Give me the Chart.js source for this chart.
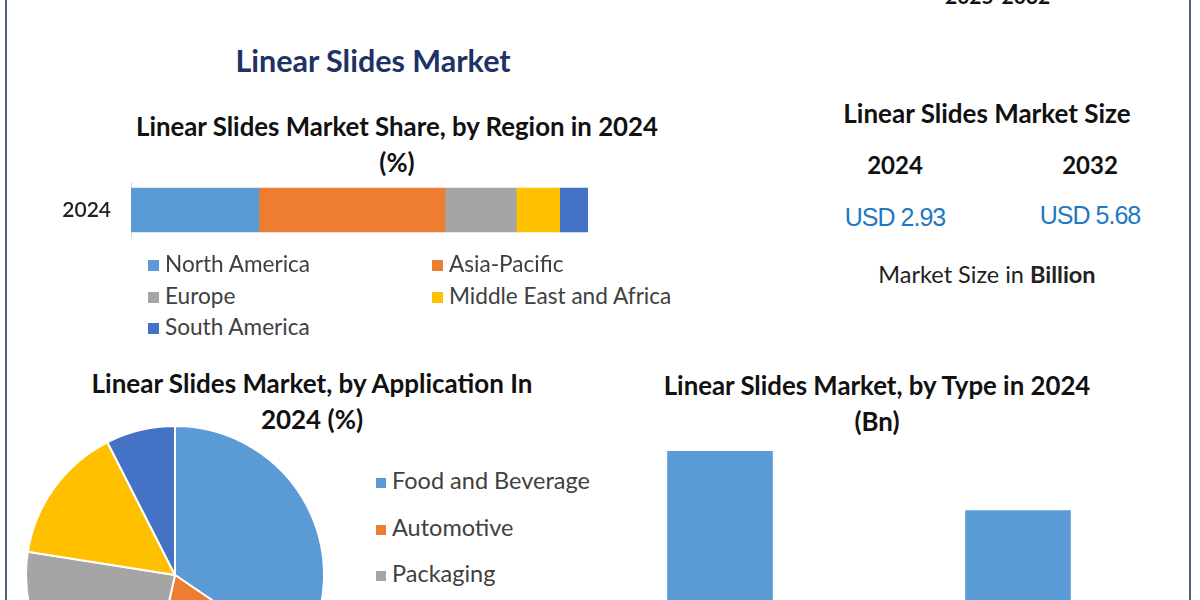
<!DOCTYPE html>
<html>
<head>
<meta charset="utf-8">
<script src="https://cdn.jsdelivr.net/npm/chart.js@4.4.1/dist/chart.umd.min.js"></script>
<style>
  html, body { margin: 0; padding: 0; }
  body { width: 1200px; height: 600px; overflow: hidden; position: relative; background: #fff; font-family: Lato, "Open Sans", sans-serif; }
  .abs { position: absolute; white-space: nowrap; }
  .c { text-align: center; }
  .t { font-weight: bold; color: #111; font-size: 25.8px; line-height: 36px; }
  .leg { position: absolute; font-size: 22.6px; color: #404040; line-height: 24px; white-space: nowrap; }
  .leg i { display: inline-block; width: 11px; height: 11px; margin-right: 6px; vertical-align: 1px; }
  canvas { position: absolute; }
  .edge { position: absolute; top: 0; height: 600px; width: 2px; background: #4c6177; }
</style>
</head>
<body>
<div class="edge" style="left:5px"></div>
<div class="edge" style="left:1189px"></div>

<div class="abs t" style="left:945px; top:-22px; font-size:21px;">2025-2032</div>
<div class="abs c" style="left:173px; width:400px; top:42px; font-size:30.5px; font-weight:bold; color:#1e3265; line-height:36px;">Linear Slides Market</div>

<div class="abs t c" style="left:97px; width:600px; top:108px;">Linear Slides Market Share, by Region in 2024<br>(%)</div>
<canvas id="regionChart" width="588" height="120" style="left:0; top:150px;"></canvas>
<div id="regionLegend"></div>

<div class="abs t c" style="left:787px; width:400px; top:95px; font-size:26px;">Linear Slides Market Size</div>
<div id="sizeBox"></div>
<div class="abs c" style="left:787px; width:400px; top:258px; font-size:23.5px; color:#222; line-height:32px;">Market Size in <b>Billion</b></div>

<div class="abs t c" style="left:12px; width:600px; top:365px; font-size:26px;">Linear Slides Market, by Application In<br>2024 (%)</div>
<canvas id="appChart" width="300" height="300" style="left:25px; top:425px;"></canvas>
<div id="appLegend"></div>

<div class="abs t c" style="left:577px; width:600px; top:367px;">Linear Slides Market, by Type in 2024<br>(Bn)</div>
<canvas id="typeChart" width="596" height="320" style="left:571px; top:440px;"></canvas>

<script>
// region share (%), 2024
const regionLabels = ['North America', 'Asia-Pacific', 'Europe', 'Middle East and Africa', 'South America'];
const regionShare = [28.0, 40.7, 15.6, 9.5, 6.2];
const regionColors = ['#5b9bd5', '#ed7d31', '#a5a5a5', '#ffc000', '#4472c4'];
const regionYear = ['2024'];

// market size (USD Bn)
const sizeYears = ['2024', '2032'];
const sizeValues = [2.93, 5.68];

// application share (%), only the first three names are visible
const appLabels = ['Food and Beverage', 'Automotive', 'Packaging', 'Segment 4', 'Segment 5'];
const appShare = [34.5, 19.0, 24.0, 15.0, 7.5];
const appColors = ['#5b9bd5', '#ed7d31', '#a5a5a5', '#ffc000', '#4472c4'];

// type (Bn), category names are cut off in the picture
const typeLabels = ['Type 1', 'Type 2'];
const typeValues = [1.62, 1.31];

Chart.defaults.font.family = 'Lato, "Open Sans", sans-serif';
Chart.defaults.animation = false;

new Chart(document.getElementById('regionChart'), {
    type: 'bar',
    data: {
        labels: regionYear,
        datasets: regionLabels.map((name, i) => ({
            label: name,
            data: [regionShare[i]],
            backgroundColor: regionColors[i],
            barThickness: 44,
            stack: 's'
        }))
    },
    options: {
        responsive: false,
        indexAxis: 'y',
        layout: { padding: 0 },
        plugins: { legend: { display: false }, tooltip: { enabled: false } },
        scales: {
            x: { stacked: true, display: false, min: 0, max: 100 },
            y: {
                stacked: true,
                grid: { display: false, drawTicks: false },
                border: { display: true, color: '#d9d9d9', width: 1 },
                ticks: { color: '#222', font: { size: 21, weight: '600' }, padding: 20 },
                afterFit: s => { s.width = 131; }
            }
        }
    }
});

// region legend, two columns
const regionLegend = document.getElementById('regionLegend');
regionLabels.forEach((name, i) => {
    const d = document.createElement('div');
    d.className = 'leg';
    d.style.left = (i % 2 === 0 ? 148 : 432) + 'px';
    d.style.top = (252 + Math.floor(i / 2) * 31.5) + 'px';
    d.innerHTML = `<i style="background:${regionColors[i]}"></i>${name}`;
    regionLegend.appendChild(d);
});

// market size numbers
const sizeBox = document.getElementById('sizeBox');
const sizeX = [895, 1090];
sizeYears.forEach((y, i) => {
    const a = document.createElement('div');
    a.className = 'abs t c';
    a.style.cssText = `left:${sizeX[i] - 60}px; width:120px; top:147px; font-size:24px;`;
    a.textContent = y;
    sizeBox.appendChild(a);
    const b = document.createElement('div');
    b.className = 'abs c';
    b.style.cssText = `left:${sizeX[i] - 90}px; width:180px; top:${i === 0 ? 202 : 200}px; font-family:"Liberation Sans", Arial, sans-serif; font-size:25px; letter-spacing:-1px; color:#1f78c1; line-height:30px;`;
    b.textContent = 'USD ' + sizeValues[i].toFixed(2);
    sizeBox.appendChild(b);
});

new Chart(document.getElementById('appChart'), {
    type: 'pie',
    data: {
        labels: appLabels,
        datasets: [{ data: appShare, backgroundColor: appColors, borderColor: '#fff', borderWidth: 2 }]
    },
    options: {
        responsive: false,
        plugins: { legend: { display: false }, tooltip: { enabled: false } }
    }
});

const appLegend = document.getElementById('appLegend');
appLabels.forEach((name, i) => {
    const d = document.createElement('div');
    d.className = 'leg';
    d.style.left = '376px';
    d.style.top = (468 + i * 46.5) + 'px';
    d.style.fontSize = '23.5px';
    d.innerHTML = `<i style="background:${appColors[i]}; width:10px; height:10px;"></i>${name}`;
    appLegend.appendChild(d);
});

new Chart(document.getElementById('typeChart'), {
    type: 'bar',
    data: {
        labels: typeLabels,
        datasets: [{ data: typeValues, backgroundColor: '#5b9bd5', barThickness: 105 }]
    },
    options: {
        responsive: false,
        layout: { padding: 0 },
        plugins: { legend: { display: false }, tooltip: { enabled: false } },
        scales: {
            x: { display: false },
            y: { display: false, min: 0, max: 1.68 }
        }
    }
});
</script>
</body>
</html>
